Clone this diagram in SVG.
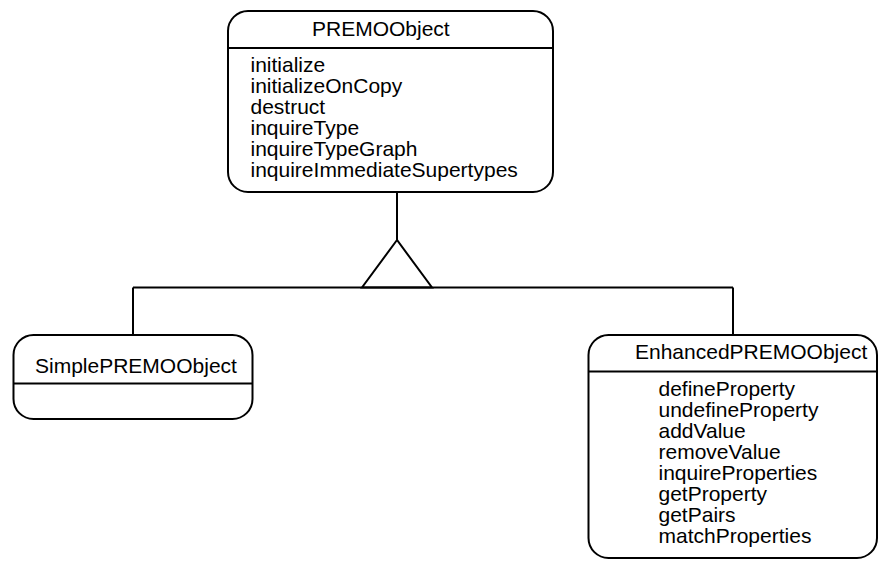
<svg xmlns="http://www.w3.org/2000/svg" width="880" height="561" viewBox="0 0 880 561">
<style>
.box{fill:#fff;stroke:#000;stroke-width:2}
.div{stroke:#000;stroke-width:2}
.t{font-family:"Liberation Sans",Arial,sans-serif;font-size:21px;fill:#000}
.c{fill:none;stroke:#000;stroke-width:2}
</style>
<rect width="880" height="561" fill="#fff"/>
<g id="connectors">
<line class="c" x1="397" y1="192" x2="397" y2="240"/>
<polygon class="c" points="397,240 362,287.5 432,287.5"/>
<line class="c" x1="133" y1="287.5" x2="733" y2="287.5"/>
<line class="c" x1="133" y1="287.5" x2="133" y2="335"/>
<line class="c" x1="733" y1="287.5" x2="733" y2="335"/>
</g>
<g id="PREMOObject">
<rect class="box" x="228" y="11" width="325" height="181" rx="20" ry="20"/>
<line class="div" x1="228" y1="48" x2="553" y2="48"/>
<text class="t" x="312" y="35.5">PREMOObject</text>
<text class="t" x="250.5" y="71.5">initialize</text>
<text class="t" x="250.5" y="92.5">initializeOnCopy</text>
<text class="t" x="250.5" y="113.5">destruct</text>
<text class="t" x="250.5" y="134.5">inquireType</text>
<text class="t" x="250.5" y="155.5">inquireTypeGraph</text>
<text class="t" x="250.5" y="176.5">inquireImmediateSupertypes</text>
</g>
<g id="SimplePREMOObject">
<rect class="box" x="13.5" y="335" width="239" height="84" rx="20" ry="20"/>
<line class="div" x1="13.5" y1="383.5" x2="252.5" y2="383.5"/>
<text class="t" x="35" y="372.5">SimplePREMOObject</text>
</g>
<g id="EnhancedPREMOObject">
<rect class="box" x="588.5" y="335" width="288.5" height="223" rx="20" ry="20"/>
<line class="div" x1="588.5" y1="371.5" x2="877" y2="371.5"/>
<text class="t" x="635" y="358.5">EnhancedPREMOObject</text>
<text class="t" x="658.5" y="396">defineProperty</text>
<text class="t" x="658.5" y="417">undefineProperty</text>
<text class="t" x="658.5" y="438">addValue</text>
<text class="t" x="658.5" y="459">removeValue</text>
<text class="t" x="658.5" y="480">inquireProperties</text>
<text class="t" x="658.5" y="501">getProperty</text>
<text class="t" x="658.5" y="522">getPairs</text>
<text class="t" x="658.5" y="543">matchProperties</text>
</g>
</svg>
